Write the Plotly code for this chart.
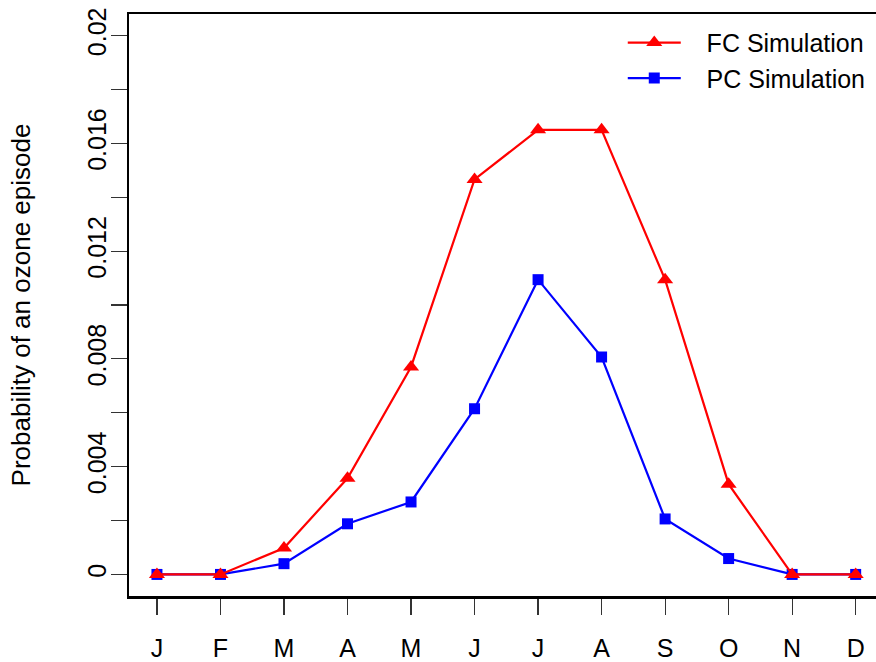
import plotly.graph_objects as go

months = ["J", "F", "M", "A", "M", "J", "J", "A", "S", "O", "N", "D"]
month_idx = list(range(1, 13))
fc_values = [0.0, 0.0, 0.00098, 0.00357, 0.0077, 0.01466, 0.0165, 0.0165, 0.01094, 0.00335, 0.0, 0.0]
pc_values = [0.0, 0.0, 0.0004, 0.00188, 0.00269, 0.00615, 0.01094, 0.00807, 0.00206, 0.00059, 0.0, 0.0]
y_tickvals = [0.0, 0.002, 0.004, 0.006, 0.008, 0.010, 0.012, 0.014, 0.016, 0.018, 0.020]
y_ticktext = ["0", "", "0.004", "", "0.008", "", "0.012", "", "0.016", "", "0.02"]

FONT = "Liberation Sans, Arial, sans-serif"
PAD = "\u00a0\u00a0\u00a0"

fig = go.Figure()
fig.add_trace(go.Scatter(
    x=month_idx, y=pc_values, mode="lines+markers", name=PAD + "PC Simulation",
    line=dict(color="#0000ff", width=2.2),
    marker=dict(symbol="square", size=11, color="#0000ff"),
    legendrank=2,
))
fig.add_trace(go.Scatter(
    x=month_idx, y=fc_values, mode="lines+markers", name=PAD + "FC Simulation",
    line=dict(color="#ff0000", width=2.2),
    marker=dict(symbol="triangle-up", size=14, color="#ff0000"),
    legendrank=1,
))

fig.update_layout(
    width=876, height=662,
    margin=dict(l=129, r=0, t=14, b=60),
    paper_bgcolor="white", plot_bgcolor="white",
    font=dict(family=FONT, size=25, color="black"),
    showlegend=True,
    legend=dict(
        x=0.661, y=0.990, xanchor="left", yanchor="top",
        bgcolor="rgba(0,0,0,0)", font=dict(size=25),
        itemwidth=53, tracegroupgap=0,
    ),
    xaxis=dict(
        range=[0.56, 12.32], tickvals=month_idx, ticktext=months,
        showgrid=False, zeroline=False,
        showline=True, linecolor="black", linewidth=2.5, mirror=True,
        ticks="outside", ticklen=16, tickwidth=1.2, tickcolor="#333",
        tickfont=dict(size=25), ticklabelstandoff=12,
        ticklabeloverflow="allow",
    ),
    yaxis=dict(
        range=[-0.0008, 0.0208], tickvals=y_tickvals, ticktext=y_ticktext,
        showgrid=False, zeroline=False,
        showline=True, linecolor="black", linewidth=2.5, mirror=False,
        ticks="outside", ticklen=16, tickwidth=1.2, tickcolor="#333",
        tickangle=-90, tickfont=dict(size=25), ticklabelstandoff=-5,
        ticklabeloverflow="allow",
        title=dict(text="Probability of an ozone episode", font=dict(size=26), standoff=45),
    ),
)

fig.write_html(
    "out.html",
    config={"displayModeBar": False, "staticPlot": True},
    post_script="document.body.style.margin='0';document.body.style.overflow='hidden';",
)
